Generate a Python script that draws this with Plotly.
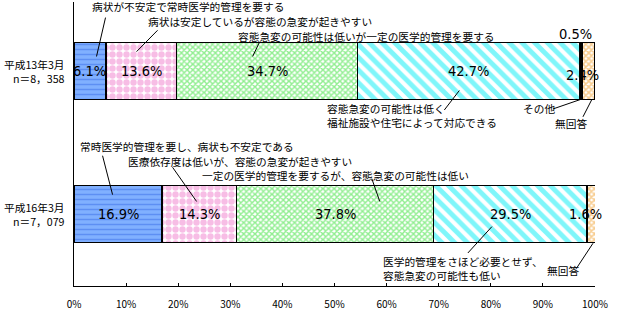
import plotly.graph_objects as go

# ---------------- data ----------------
period_labels = ["平成13年3月<br>n＝8，358", "平成16年3月<br>n＝7，079"]
period_pos = [0, 1]

seg_names = [
    "病状が不安定で常時医学的管理を要する",
    "病状は安定しているが容態の急変が起きやすい",
    "容態急変の可能性は低いが一定の医学的管理を要する",
    "容態急変の可能性は低く福祉施設や住宅によって対応できる",
    "その他",
    "無回答",
]
vals_unstable = [6.1, 16.9]
vals_sudden = [13.6, 14.3]
vals_medical = [34.7, 37.8]
vals_lowrisk = [42.7, 29.5]
vals_other = [0.5, None]
vals_noanswer = [2.4, 1.6]

x_tickvals = [0, 10, 20, 30, 40, 50, 60, 70, 80, 90, 100]
x_ticktext = ["0%", "10%", "20%", "30%", "40%", "50%", "60%", "70%", "80%", "90%", "100%"]

# ---------------- styles ----------------
JP = "Noto Sans CJK JP"
NUM = "Liberation Sans Narrow, DejaVu Sans Condensed, Arial Narrow, sans-serif"
jp_size = 10.7
num_size = 14.5

styles = [
    dict(color="#80b0ff", pattern=dict(shape="-", fgcolor="#3a6de8", bgcolor="#80b0ff", size=5, solidity=0.3)),
    dict(color="#ffffff", pattern=dict(shape=".", fgcolor="#f07ccb", bgcolor="#ffffff", size=7, solidity=0.65)),
    dict(color="#ffffff", pattern=dict(shape="x", fgcolor="#22dd22", bgcolor="#ffffff", size=4, solidity=0.6)),
    dict(color="#ffffff", pattern=dict(shape="\\", fgcolor="#00eef5", bgcolor="#ffffff", size=9, solidity=0.55)),
    dict(color="#000000"),
    dict(color="#ffffff", pattern=dict(shape="x", fgcolor="#f09a20", bgcolor="#ffffff", size=4, solidity=0.62)),
]
series = [vals_unstable, vals_sudden, vals_medical, vals_lowrisk, vals_other, vals_noanswer]

fig = go.Figure()
for name, vals, st in zip(seg_names, series, styles):
    fig.add_trace(go.Bar(
        y=period_pos, x=vals, orientation="h", name=name, width=0.4,
        marker=dict(line=dict(color="black", width=1.6), **st),
        hoverinfo="x+name",
    ))

annotations = []
# in-bar percentage labels for the four main segments
for i in range(len(period_pos)):
    left = 0.0
    for k, vals in enumerate(series):
        v = vals[i]
        if v is None:
            continue
        if k < 4:
            annotations.append(dict(x=left + v / 2, y=period_pos[i], xref="x", yref="y",
                                    text=f"{v:.1f}%", showarrow=False,
                                    font=dict(family=NUM, size=num_size, color="black")))
        left += v

# outside percentage labels
annotations.append(dict(x=96.3, y=-0.259, xref="x", yref="y", text=f"{vals_other[0]:.1f}%",
                        showarrow=False, font=dict(family=NUM, size=num_size, color="black")))
annotations.append(dict(x=1.0115, y=0.027, xref="paper", yref="y", text=f"{vals_noanswer[0]:.1f}%",
                        showarrow=False, font=dict(family=NUM, size=num_size, color="black")))
annotations.append(dict(x=1.0165, y=1.0, xref="paper", yref="y", text=f"{vals_noanswer[1]:.1f}%",
                        showarrow=False, font=dict(family=NUM, size=num_size, color="black")))

# period labels left of the axis
for lab, pos in zip(period_labels, period_pos):
    annotations.append(dict(x=-0.013, y=pos, xref="paper", yref="y", text=lab, showarrow=False,
                            xanchor="right", yanchor="middle", align="right",
                            font=dict(family=JP, size=jp_size, color="black")))

# category callouts (x = left edge, y = middle)
callouts = [
    ("病状が不安定で常時医学的管理を要する", 3.2, -0.449),
    ("病状は安定しているが容態の急変が起きやすい", 14.0, -0.347),
    ("容態急変の可能性は低いが一定の医学的管理を要する", 31.3, -0.245),
    ("容態急変の可能性は低く<br>福祉施設や住宅によって対応できる", 48.4, 0.312),
    ("その他", 86.0, 0.265),
    ("無回答", 92.2, 0.367),
    ("常時医学的管理を要し、病状も不安定である", 0.9, 0.524),
    ("医療依存度は低いが、容態の急変が起きやすい", 10.1, 0.633),
    ("一定の医学的管理を要するが、容態急変の可能性は低い", 24.4, 0.733),
    ("医学的管理をさほど必要とせず、<br>容態急変の可能性も低い", 59.1, 1.381),
    ("無回答", 90.6, 1.395),
]
for txt, x, y in callouts:
    annotations.append(dict(x=x, y=y, xref="x", yref="y", text=txt, showarrow=False,
                            xanchor="left", yanchor="middle", align="left", borderpad=0,
                            font=dict(family=JP, size=jp_size, color="black")))

# leader lines (data coordinates)
leaders = [
    (6.05, -0.374, 4.32, -0.102),
    (16.04, -0.285, 12.01, -0.136),
    (35.64, -0.205, 34.29, -0.102),
    (71.08, 0.272, 73.96, 0.136),
    (91.93, 0.265, 97.35, 0.197),
    (97.69, 0.320, 99.42, 0.197),
    (5.48, 0.592, 7.40, 0.864),
    (18.92, 0.673, 23.54, 0.912),
    (57.16, 0.752, 58.69, 0.912),
    (75.60, 1.272, 80.21, 1.088),
    (96.54, 1.374, 99.62, 1.204),
]
shapes = [dict(type="line", xref="x", yref="y", x0=a, y0=b, x1=c, y1=d,
               line=dict(color="black", width=1)) for a, b, c, d in leaders]

fig.update_layout(
    width=618, height=313,
    margin=dict(l=74, r=23, t=2, b=19, pad=0),
    paper_bgcolor="white", plot_bgcolor="white",
    barmode="stack", showlegend=False,
    annotations=annotations, shapes=shapes,
    font=dict(family=JP, size=jp_size, color="black"),
    xaxis=dict(range=[0, 100], tickvals=x_tickvals, ticktext=x_ticktext,
               ticks="inside", ticklen=3, tickcolor="black", tickwidth=1,
               showline=True, linecolor="black", linewidth=1,
               showgrid=False, zeroline=False, ticklabelstandoff=9,
               tickfont=dict(family=JP, size=10, color="black")),
    yaxis=dict(range=[1.503, -0.483], tickvals=period_pos, ticktext=["", ""],
               ticks="", showline=True, linecolor="black", linewidth=1,
               showgrid=False, zeroline=False),
)

fig.write_html("out.html")
